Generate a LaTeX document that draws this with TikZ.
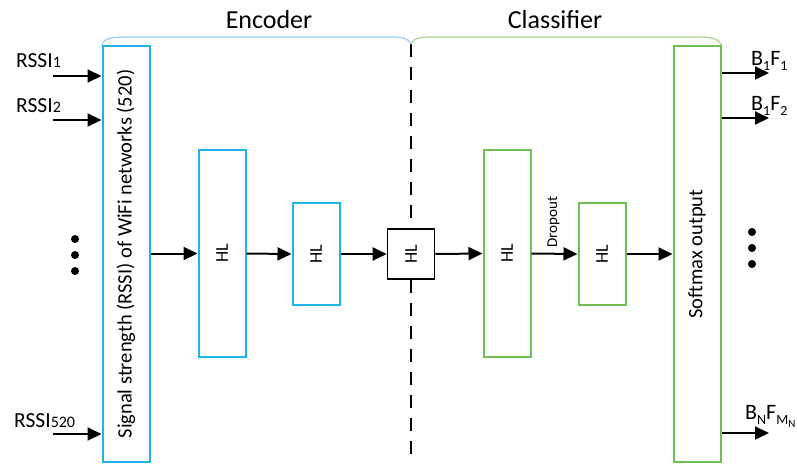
\documentclass[tikz,border=0pt]{standalone}
\usepackage{fontspec}
\setmainfont{Carlito}
\usetikzlibrary{arrows.meta}
\definecolor{encblue}{HTML}{1EB4E8}
\definecolor{clsgreen}{HTML}{70BF50}
\definecolor{encbrace}{HTML}{8FD6F0}
\definecolor{clsbrace}{HTML}{A8D890}
\newcommand{\lowtxt}[2][5pt]{\raisebox{-#1}{\fontsize{14}{15}\selectfont #2}}
\begin{document}
\begin{tikzpicture}[x=1pt,y=-1pt,
  layer/.style={draw, line width=2pt, minimum width=47pt, inner sep=0pt},
  encl/.style={layer, draw=encblue},
  clsl/.style={layer, draw=clsgreen},
  hidl/.style={layer, draw=black, line width=1.6pt},
  conn/.style={line width=2pt, -{Triangle[length=14pt,width=13pt]}},
  lbl/.style={font=\fontsize{18}{20}\selectfont, rotate=90},
  bigl/.style={font=\fontsize{20.5}{22}\selectfont, rotate=90},
  inlbl/.style={font=\fontsize{21.5}{23}\selectfont, inner sep=0pt},
  outlbl/.style={font=\fontsize{22}{24}\selectfont, inner sep=0pt},
  dot/.style={circle, fill=black, inner sep=0pt, minimum size=8pt}]
\useasboundingbox (0,0) rectangle (797,463);

% layers
\node[encl, minimum height=416pt] (inp) at (126,254) {};
\node[bigl] at (inp.center) {Signal strength (RSSI) of WiFi networks (520)};
\node[encl, minimum height=207pt] (h1) at (222,253.5) {};
\node[lbl] at (h1.center) {HL};
\node[encl, minimum height=102pt] (h2) at (316,254) {};
\node[lbl] at (h2.center) {HL};
\node[hidl, minimum height=50pt] (h3) at (411,254) {};
\node[lbl] at (h3.center) {HL};
\node[clsl, minimum height=207pt] (h4) at (507,253.5) {};
\node[lbl] at (h4.center) {HL};
\node[clsl, minimum height=102pt] (h5) at (602,254) {};
\node[lbl] at (h5.center) {HL};
\node[clsl, minimum height=416pt] (out) at (697,254) {};
\node[bigl] at (out.center) {Softmax output};

% split between encoder and classifier
\coordinate (cutT) at (411,44);
\coordinate (cutB) at (411,463);
\draw[line width=2pt, dash pattern=on 13pt off 10pt] (cutT) -- (h3.north);
\draw[line width=2pt, dash pattern=on 13pt off 10pt] (h3.south) -- (cutB);

% forward connections
\draw[conn] (inp.east |- h1.west) -- (h1.west);
\draw[conn] (h1.east) -- (h2.west);
\draw[conn] (h2.east) -- (h3.west);
\draw[conn] (h3.east) -- (h4.west);
\draw[conn] (h4.east) -- node[font=\fontsize{15}{17}\selectfont, rotate=90, anchor=south west, inner sep=0pt, xshift=5pt, yshift=-6pt] {Dropout} (h5.west);
\draw[conn] (h5.east) -- (out.west |- h5.east);

% braces
\draw[encbrace, line width=1.2pt] (inp.north west) .. controls (104,39) and (110,37) .. (125,37) -- (390,37) .. controls (404,37) and (409,39) .. (cutT);
\draw[clsbrace, line width=1.2pt] (cutT) .. controls (413,39) and (418,37) .. (433,37) -- (698,37) .. controls (712,37) and (719,39) .. (out.north east);
\node[font=\fontsize{26}{28}\selectfont] (enc) at (269,20) {Encoder};
\node[font=\fontsize{26}{28}\selectfont] (cls) at (555,20) {Classifier};

% inputs
\coordinate (i1) at (53,76);
\coordinate (i2) at (53,120);
\coordinate (i3) at (53,434);
\draw[conn] (i1) -- (inp.west |- i1);
\draw[conn] (i2) -- (inp.west |- i2);
\draw[conn] (i3) -- (inp.west |- i3);
\node[inlbl, anchor=base west] (r1) at (16,67) {RSSI{\fontsize{16}{17}\selectfont 1}};
\node[inlbl, anchor=base west] (r2) at (16,112) {RSSI{\fontsize{16}{17}\selectfont 2}};
\node[inlbl, anchor=base west] (r3) at (14,427) {RSSI{\fontsize{16}{17}\selectfont 520}};
\node[dot] (d1) at (75,239) {};
\node[dot] (d2) at (75,255) {};
\node[dot] (d3) at (75,271) {};

% outputs
\coordinate (o1) at (769,73);
\coordinate (o2) at (769,118);
\coordinate (o3) at (769,433);
\draw[conn] (out.east |- o1) -- (o1);
\draw[conn] (out.east |- o2) -- (o2);
\draw[conn] (out.east |- o3) -- (o3);
\node[outlbl, anchor=base west] (b1) at (751,65) {B\lowtxt{1}F\lowtxt{1}};
\node[outlbl, anchor=base west] (b2) at (751,110) {B\lowtxt{1}F\lowtxt{2}};
\node[outlbl, anchor=base west] (b3) at (745,419) {B\lowtxt{N}F\lowtxt{M\raisebox{-3pt}{\fontsize{11}{12}\selectfont N}}};
\node[dot] (e1) at (752,232) {};
\node[dot] (e2) at (752,248) {};
\node[dot] (e3) at (752,264) {};
\end{tikzpicture}
\end{document}
